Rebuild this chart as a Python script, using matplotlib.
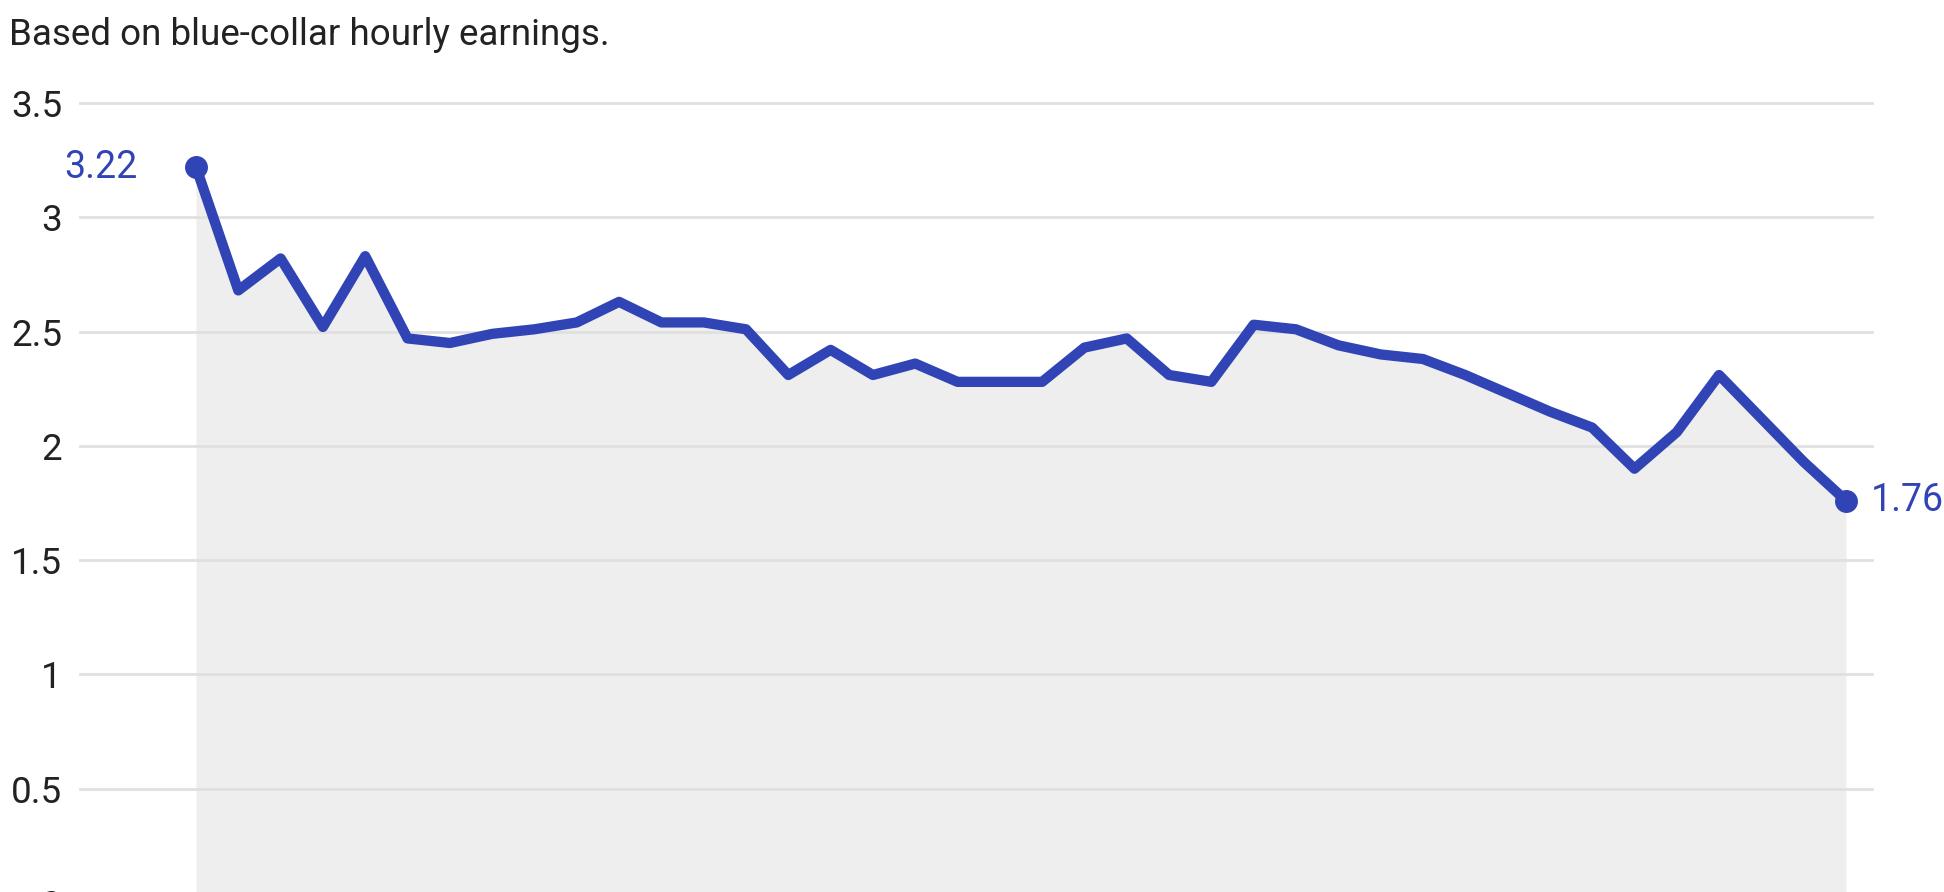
import matplotlib
matplotlib.use("Agg")
import matplotlib.pyplot as plt
from matplotlib import font_manager

# ---- data ----
years = list(range(1979, 2019))
values = [3.22, 2.68, 2.82, 2.52, 2.83, 2.47, 2.45, 2.49, 2.51, 2.54,
          2.63, 2.54, 2.54, 2.51, 2.31, 2.42, 2.31, 2.36, 2.28, 2.28,
          2.28, 2.43, 2.47, 2.31, 2.28, 2.53, 2.51, 2.44, 2.40, 2.38,
          2.31, 2.23, 2.15, 2.08, 1.90, 2.06, 2.31, 2.12, 1.93, 1.76]
y_ticks = [0, 0.5, 1, 1.5, 2, 2.5, 3, 3.5]
y_tick_labels = ["0", "0.5", "1", "1.5", "2", "2.5", "3", "3.5"]
subtitle = "Based on blue-collar hourly earnings."

# ---- font ----
avail = {f.name for f in font_manager.fontManager.ttflist}
prefs = ["Liberation Sans Narrow", "Roboto", "Liberation Sans", "DejaVu Sans"]
family = [f for f in prefs if f in avail] + ["DejaVu Sans"]
plt.rcParams["font.family"] = family

W, H = 1944, 892
fig = plt.figure(figsize=(W / 100, H / 100), dpi=100)
fig.patch.set_facecolor("white")

x0_px, x1_px = 80, 1872
ybot_px, ytop_px = 903, 103
ax = fig.add_axes([x0_px / W, (H - ybot_px) / H, (x1_px - x0_px) / W, (ybot_px - ytop_px) / H])

LINE = "#3044b5"
step = (1846 - 196) / (len(years) - 1)
ax.set_xlim(years[0] - (196 - x0_px) / step, years[0] + (x1_px - 196) / step)
ax.set_ylim(0, 3.5)

ax.fill_between(years, 0, values, color="#eeeeee", zorder=1, linewidth=0)
for t in y_ticks:
    ax.axhline(t, color="#e0e0e0", linewidth=2.0, zorder=2, clip_on=False)
ax.plot(years, values, color=LINE, linewidth=7.4, zorder=3,
        solid_joinstyle="round", solid_capstyle="round")
ax.plot([years[0], years[-1]], [values[0], values[-1]], "o", color=LINE,
        markersize=15.5, zorder=4, clip_on=False)

ax.annotate(f"{values[0]:.2f}", (years[0], values[0]), xytext=(-42, 0),
            textcoords="offset points", ha="right", va="center",
            color=LINE, fontsize=27)
ax.annotate(f"{values[-1]:.2f}", (years[-1], values[-1]), xytext=(18, 0),
            textcoords="offset points", ha="left", va="center",
            color=LINE, fontsize=27, annotation_clip=False)

ax.set_yticks(y_ticks)
ax.set_yticklabels(y_tick_labels)
ax.tick_params(axis="y", length=0, pad=13, labelsize=26.5, labelcolor="#222222")
ax.set_xticks([])
for s in ax.spines.values():
    s.set_visible(False)
ax.set_facecolor("none")

fig.text(9 / W, 1 - 35 / H, subtitle, ha="left", va="center",
         fontsize=26.5, color="#222222")

fig.savefig("out.png", dpi=100, facecolor="white")
